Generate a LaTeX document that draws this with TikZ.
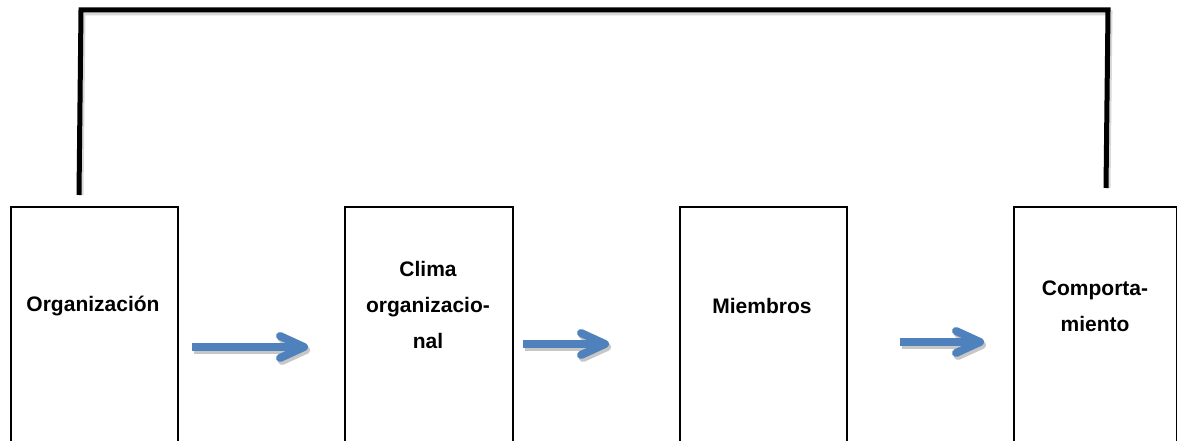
\documentclass[tikz,border=0pt]{standalone}
\usepackage{fontspec}
\setmainfont{Liberation Sans}
\usetikzlibrary{calc}
\definecolor{arrblue}{HTML}{4F81BD}
\tikzset{
  box/.style={draw=black, line width=2pt, fill=white, anchor=north west, minimum height=260pt, inner sep=0pt},
  lbl/.style={align=center, font=\fontsize{21}{36}\selectfont\bfseries, inner sep=0pt},
  shaft/.style={draw=arrblue, line width=8pt},
  head/.style={draw=arrblue, line width=8pt, line cap=round, line join=round},
  shaftsh/.style={draw=black!22, line width=8pt},
  headsh/.style={draw=black!22, line width=8pt, line cap=round, line join=round},
  fb/.style={draw=black, line width=5pt, line join=miter},
  fbsh/.style={draw=black!15, line width=5pt, line join=miter}
}
\begin{document}
\begin{tikzpicture}[x=1pt,y=-1pt]
\clip (0,0) rectangle (1177,441);
\fill[white] (0,0) rectangle (1177,441);
% boxes
\node[box, minimum width=167pt] (b1) at (9.5,206) {};
\node[box, minimum width=168pt] (b2) at (344,206) {};
\node[box, minimum width=167pt] (b3) at (679,206) {};
\node[box, minimum width=163pt] (b4) at (1013,206) {};
% labels
\node[lbl] (t1) at (93,306) {Organización};
\node[lbl] (t2) at (428,305) {Clima\\organizacio-\\nal};
\node[lbl] (t3) at (762,306) {Miembros};
\node[lbl] (t4) at (1095,306) {Comporta-\\miento};
% arrow coordinates
\coordinate (a1s) at (192,347);
\coordinate (a1e) at (304,347);
\coordinate (a2s) at (523,344);
\coordinate (a2e) at (605,344);
\coordinate (a3s) at (900,342);
\coordinate (a3e) at (980,342);
% shadows
\foreach \s/\e in {a1s/a1e, a2s/a2e, a3s/a3e}{
  \draw[shaftsh] ($(\s)+(2,3)$) -- ($(\e)+(-2,3)$);
  \draw[headsh] ($(\e)+(-22,-8)$) -- ($(\e)+(2,3)$) -- ($(\e)+(-22,14)$);
}
% arrows
\foreach \s/\e in {a1s/a1e, a2s/a2e, a3s/a3e}{
  \draw[shaft] (\s) -- ($(\e)+(-4,0)$);
  \draw[head] ($(\e)+(-24,-11)$) -- (\e) -- ($(\e)+(-24,11)$);
}
% feedback line
\coordinate (fbL) at (79,195);
\coordinate (fbR) at (1106,188);
\draw[fbsh] ($(fbL)+(2,0)$) -- (83,13) -- (1110,13) -- ($(fbR)+(2,0)$);
\draw[fb] (fbL) -- (81,10) -- (1108,10) -- (fbR);
\end{tikzpicture}
\end{document}
